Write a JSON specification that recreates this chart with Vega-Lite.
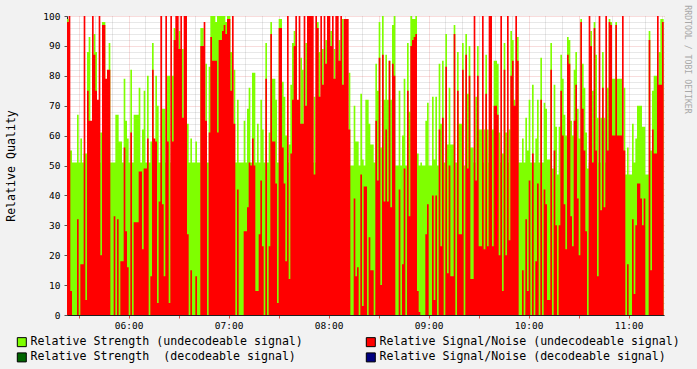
{
"$schema": "https://vega.github.io/schema/vega-lite/v6.json",
"width": 597, "height": 299,
"autosize": "none",
"padding": {"left": 67, "top": 16, "right": 33, "bottom": 54},
"background": "#f2f2f2",
"config": {"view": {"fill": "#ffffff", "stroke": null}, "font": "DejaVu Sans Mono"},
"data": {"format": {"parse": {"t": "date:'%H:%M'"}}, "values": [
{"t":"05:23","g":99,"r":98},{"t":"05:24","g":55,"r":100},{"t":"05:25","g":55,"r":8},{"t":"05:26","g":51,"r":0},{"t":"05:27","g":51,"r":0},{"t":"05:28","g":51,"r":0},{"t":"05:29","g":67,"r":32},{"t":"05:30","g":51,"r":0},{"t":"05:31","g":59,"r":17},{"t":"05:32","g":51,"r":17},
{"t":"05:33","g":54,"r":100},{"t":"05:34","g":54,"r":5},{"t":"05:35","g":88,"r":75},{"t":"05:36","g":93,"r":65},{"t":"05:37","g":51,"r":65},{"t":"05:38","g":51,"r":100},{"t":"05:39","g":94,"r":87},{"t":"05:40","g":88,"r":75},{"t":"05:41","g":51,"r":72},{"t":"05:42","g":51,"r":100},
{"t":"05:43","g":61,"r":20},{"t":"05:44","g":98,"r":97},{"t":"05:45","g":98,"r":97},{"t":"05:46","g":51,"r":79},{"t":"05:47","g":51,"r":82},{"t":"05:48","g":91,"r":82},{"t":"05:49","g":51,"r":0},{"t":"05:50","g":51,"r":0},{"t":"05:51","g":51,"r":33},{"t":"05:52","g":67,"r":0},
{"t":"05:53","g":67,"r":32},{"t":"05:54","g":58,"r":0},{"t":"05:55","g":58,"r":18},{"t":"05:56","g":51,"r":18},{"t":"05:57","g":79,"r":56},{"t":"05:58","g":65,"r":28},{"t":"05:59","g":59,"r":16},{"t":"06:00","g":51,"r":0},{"t":"06:01","g":82,"r":61},{"t":"06:02","g":51,"r":0},
{"t":"06:03","g":67,"r":31},{"t":"06:04","g":67,"r":31},{"t":"06:05","g":67,"r":31},{"t":"06:06","g":76,"r":48},{"t":"06:07","g":51,"r":48},{"t":"06:08","g":62,"r":22},{"t":"06:09","g":75,"r":49},{"t":"06:10","g":51,"r":49},{"t":"06:11","g":80,"r":59},{"t":"06:12","g":51,"r":0},
{"t":"06:13","g":58,"r":13},{"t":"06:14","g":91,"r":82},{"t":"06:15","g":51,"r":59},{"t":"06:16","g":80,"r":58},{"t":"06:17","g":70,"r":4},{"t":"06:18","g":51,"r":38},{"t":"06:19","g":51,"r":100},{"t":"06:20","g":69,"r":37},{"t":"06:21","g":69,"r":13},{"t":"06:22","g":51,"r":100},
{"t":"06:23","g":80,"r":58},{"t":"06:24","g":80,"r":4},{"t":"06:25","g":51,"r":100},{"t":"06:26","g":80,"r":58},{"t":"06:27","g":96,"r":92},{"t":"06:28","g":51,"r":100},{"t":"06:29","g":51,"r":100},{"t":"06:30","g":95,"r":89},{"t":"06:31","g":51,"r":100},{"t":"06:32","g":89,"r":66},
{"t":"06:33","g":51,"r":100},{"t":"06:34","g":51,"r":100},{"t":"06:35","g":64,"r":27},{"t":"06:36","g":51,"r":0},{"t":"06:37","g":59,"r":15},{"t":"06:38","g":51,"r":0},{"t":"06:39","g":51,"r":0},{"t":"06:40","g":58,"r":13},{"t":"06:41","g":51,"r":0},{"t":"06:42","g":51,"r":0},
{"t":"06:43","g":96,"r":90},{"t":"06:44","g":96,"r":90},{"t":"06:45","g":51,"r":98},{"t":"06:46","g":84,"r":65},{"t":"06:47","g":51,"r":0},{"t":"06:48","g":83,"r":61},{"t":"06:49","g":100,"r":93},{"t":"06:50","g":100,"r":85},{"t":"06:51","g":100,"r":85},{"t":"06:52","g":98,"r":85},
{"t":"06:53","g":100,"r":61},{"t":"06:54","g":100,"r":92},{"t":"06:55","g":100,"r":92},{"t":"06:56","g":100,"r":95},{"t":"06:57","g":100,"r":97},{"t":"06:58","g":98,"r":94},{"t":"06:59","g":100,"r":99},{"t":"07:00","g":100,"r":99},{"t":"07:01","g":88,"r":75},{"t":"07:02","g":51,"r":100},
{"t":"07:03","g":82,"r":64},{"t":"07:04","g":51,"r":0},{"t":"07:05","g":72,"r":42},{"t":"07:06","g":51,"r":0},{"t":"07:07","g":51,"r":0},{"t":"07:08","g":51,"r":0},{"t":"07:09","g":65,"r":28},{"t":"07:10","g":51,"r":28},{"t":"07:11","g":69,"r":36},{"t":"07:12","g":76,"r":51},
{"t":"07:13","g":51,"r":50},{"t":"07:14","g":81,"r":59},{"t":"07:15","g":81,"r":50},{"t":"07:16","g":51,"r":8},{"t":"07:17","g":64,"r":8},{"t":"07:18","g":51,"r":27},{"t":"07:19","g":72,"r":45},{"t":"07:20","g":62,"r":23},{"t":"07:21","g":51,"r":0},{"t":"07:22","g":91,"r":79},
{"t":"07:23","g":51,"r":0},{"t":"07:24","g":61,"r":23},{"t":"07:25","g":98,"r":94},{"t":"07:26","g":79,"r":58},{"t":"07:27","g":79,"r":58},{"t":"07:28","g":72,"r":44},{"t":"07:29","g":51,"r":4},{"t":"07:30","g":99,"r":96},{"t":"07:31","g":99,"r":96},{"t":"07:32","g":78,"r":56},
{"t":"07:33","g":73,"r":44},{"t":"07:34","g":60,"r":18},{"t":"07:35","g":51,"r":100},{"t":"07:36","g":57,"r":12},{"t":"07:37","g":77,"r":54},{"t":"07:38","g":91,"r":72},{"t":"07:39","g":95,"r":90},{"t":"07:40","g":51,"r":100},{"t":"07:41","g":51,"r":72},{"t":"07:42","g":51,"r":100},
{"t":"07:43","g":86,"r":64},{"t":"07:44","g":82,"r":64},{"t":"07:45","g":51,"r":100},{"t":"07:46","g":91,"r":70},{"t":"07:47","g":51,"r":100},{"t":"07:48","g":51,"r":100},{"t":"07:49","g":51,"r":100},{"t":"07:50","g":51,"r":100},{"t":"07:51","g":73,"r":47},{"t":"07:52","g":51,"r":100},
{"t":"07:53","g":98,"r":96},{"t":"07:54","g":88,"r":73},{"t":"07:55","g":51,"r":100},{"t":"07:56","g":89,"r":77},{"t":"07:57","g":51,"r":100},{"t":"07:58","g":92,"r":84},{"t":"07:59","g":51,"r":100},{"t":"08:00","g":51,"r":100},{"t":"08:01","g":95,"r":90},{"t":"08:02","g":51,"r":100},
{"t":"08:03","g":89,"r":79},{"t":"08:04","g":51,"r":100},{"t":"08:05","g":51,"r":100},{"t":"08:06","g":92,"r":85},{"t":"08:07","g":51,"r":100},{"t":"08:08","g":99,"r":77},{"t":"08:09","g":51,"r":99},{"t":"08:10","g":51,"r":99},{"t":"08:11","g":51,"r":99},{"t":"08:12","g":81,"r":62},
{"t":"08:13","g":50,"r":0},{"t":"08:14","g":50,"r":0},{"t":"08:15","g":70,"r":39},{"t":"08:16","g":58,"r":13},{"t":"08:17","g":58,"r":16},{"t":"08:18","g":50,"r":0},{"t":"08:19","g":74,"r":47},{"t":"08:20","g":52,"r":3},{"t":"08:21","g":50,"r":43},{"t":"08:22","g":72,"r":43},
{"t":"08:23","g":72,"r":0},{"t":"08:24","g":64,"r":26},{"t":"08:25","g":57,"r":15},{"t":"08:26","g":57,"r":15},{"t":"08:27","g":51,"r":0},{"t":"08:28","g":84,"r":65},{"t":"08:29","g":75,"r":45},{"t":"08:30","g":98,"r":86},{"t":"08:31","g":56,"r":10},{"t":"08:32","g":100,"r":87},
{"t":"08:33","g":72,"r":38},{"t":"08:34","g":87,"r":62},{"t":"08:35","g":72,"r":38},{"t":"08:36","g":85,"r":85},{"t":"08:37","g":72,"r":36},{"t":"08:38","g":97,"r":84},{"t":"08:39","g":100,"r":80},{"t":"08:40","g":50,"r":0},{"t":"08:41","g":50,"r":0},{"t":"08:42","g":75,"r":42},
{"t":"08:43","g":50,"r":0},{"t":"08:44","g":60,"r":17},{"t":"08:45","g":79,"r":49},{"t":"08:46","g":50,"r":0},{"t":"08:47","g":91,"r":75},{"t":"08:48","g":68,"r":33},{"t":"08:49","g":100,"r":90},{"t":"08:50","g":99,"r":92},{"t":"08:51","g":99,"r":93},{"t":"08:52","g":100,"r":94},
{"t":"08:53","g":54,"r":8},{"t":"08:54","g":50,"r":1},{"t":"08:55","g":51,"r":0},{"t":"08:56","g":50,"r":0},{"t":"08:57","g":50,"r":0},{"t":"08:58","g":65,"r":27},{"t":"08:59","g":71,"r":37},{"t":"09:00","g":50,"r":0},{"t":"09:01","g":50,"r":0},{"t":"09:02","g":73,"r":40},
{"t":"09:03","g":52,"r":5},{"t":"09:04","g":73,"r":40},{"t":"09:05","g":50,"r":0},{"t":"09:06","g":84,"r":62},{"t":"09:07","g":64,"r":23},{"t":"09:08","g":85,"r":66},{"t":"09:09","g":51,"r":0},{"t":"09:10","g":94,"r":83},{"t":"09:11","g":57,"r":14},{"t":"09:12","g":76,"r":50},
{"t":"09:13","g":57,"r":13},{"t":"09:14","g":57,"r":13},{"t":"09:15","g":97,"r":94},{"t":"09:16","g":51,"r":0},{"t":"09:17","g":88,"r":75},{"t":"09:18","g":64,"r":27},{"t":"09:19","g":64,"r":27},{"t":"09:20","g":91,"r":82},{"t":"09:21","g":50,"r":0},{"t":"09:22","g":94,"r":87},
{"t":"09:23","g":74,"r":49},{"t":"09:24","g":90,"r":80},{"t":"09:25","g":56,"r":12},{"t":"09:26","g":56,"r":12},{"t":"09:27","g":51,"r":100},{"t":"09:28","g":73,"r":45},{"t":"09:29","g":90,"r":80},{"t":"09:30","g":62,"r":23},{"t":"09:31","g":62,"r":23},{"t":"09:32","g":51,"r":100},
{"t":"09:33","g":62,"r":22},{"t":"09:34","g":87,"r":74},{"t":"09:35","g":62,"r":23},{"t":"09:36","g":51,"r":100},{"t":"09:37","g":51,"r":100},{"t":"09:38","g":62,"r":23},{"t":"09:39","g":85,"r":70},{"t":"09:40","g":85,"r":70},{"t":"09:41","g":84,"r":67},{"t":"09:42","g":61,"r":20},
{"t":"09:43","g":51,"r":100},{"t":"09:44","g":54,"r":8},{"t":"09:45","g":91,"r":82},{"t":"09:46","g":61,"r":20},{"t":"09:47","g":51,"r":100},{"t":"09:48","g":62,"r":25},{"t":"09:49","g":95,"r":80},{"t":"09:50","g":92,"r":85},{"t":"09:51","g":72,"r":70},{"t":"09:52","g":51,"r":100},
{"t":"09:53","g":93,"r":85},{"t":"09:54","g":51,"r":0},{"t":"09:55","g":51,"r":0},{"t":"09:56","g":59,"r":15},{"t":"09:57","g":51,"r":0},{"t":"09:58","g":66,"r":32},{"t":"09:59","g":55,"r":8},{"t":"10:00","g":72,"r":45},{"t":"10:01","g":51,"r":0},{"t":"10:02","g":77,"r":54},
{"t":"10:03","g":51,"r":0},{"t":"10:04","g":59,"r":18},{"t":"10:05","g":72,"r":44},{"t":"10:06","g":51,"r":0},{"t":"10:07","g":86,"r":72},{"t":"10:08","g":51,"r":0},{"t":"10:09","g":71,"r":42},{"t":"10:10","g":69,"r":37},{"t":"10:11","g":52,"r":5},{"t":"10:12","g":52,"r":5},
{"t":"10:13","g":91,"r":82},{"t":"10:14","g":49,"r":0},{"t":"10:15","g":77,"r":55},{"t":"10:16","g":63,"r":30},{"t":"10:17","g":47,"r":0},{"t":"10:18","g":63,"r":30},{"t":"10:19","g":87,"r":75},{"t":"10:20","g":79,"r":60},{"t":"10:21","g":67,"r":37},{"t":"10:22","g":60,"r":22},
{"t":"10:23","g":93,"r":87},{"t":"10:24","g":92,"r":84},{"t":"10:25","g":65,"r":33},{"t":"10:26","g":60,"r":23},{"t":"10:27","g":82,"r":65},{"t":"10:28","g":88,"r":77},{"t":"10:29","g":69,"r":39},{"t":"10:30","g":59,"r":20},{"t":"10:31","g":99,"r":98},{"t":"10:32","g":84,"r":69},
{"t":"10:33","g":76,"r":55},{"t":"10:34","g":61,"r":28},{"t":"10:35","g":49,"r":0},{"t":"10:36","g":51,"r":100},{"t":"10:37","g":95,"r":90},{"t":"10:38","g":75,"r":51},{"t":"10:39","g":98,"r":96},{"t":"10:40","g":87,"r":55},{"t":"10:41","g":66,"r":13},{"t":"10:42","g":51,"r":100},
{"t":"10:43","g":66,"r":35},{"t":"10:44","g":88,"r":76},{"t":"10:45","g":66,"r":36},{"t":"10:46","g":51,"r":100},{"t":"10:47","g":76,"r":55},{"t":"10:48","g":99,"r":98},{"t":"10:49","g":98,"r":97},{"t":"10:50","g":79,"r":60},{"t":"10:51","g":79,"r":60},{"t":"10:52","g":98,"r":97},
{"t":"10:53","g":79,"r":60},{"t":"10:54","g":79,"r":60},{"t":"10:55","g":79,"r":60},{"t":"10:56","g":51,"r":100},{"t":"10:57","g":76,"r":55},{"t":"10:58","g":47,"r":0},{"t":"10:59","g":56,"r":17},{"t":"11:00","g":47,"r":0},{"t":"11:01","g":47,"r":0},{"t":"11:02","g":64,"r":32},
{"t":"11:03","g":51,"r":7},{"t":"11:04","g":59,"r":30},{"t":"11:05","g":70,"r":44},{"t":"11:06","g":70,"r":44},{"t":"11:07","g":70,"r":39},{"t":"11:08","g":63,"r":30},{"t":"11:09","g":63,"r":39},{"t":"11:10","g":47,"r":0},{"t":"11:11","g":47,"r":0},{"t":"11:12","g":95,"r":92},
{"t":"11:13","g":55,"r":15},{"t":"11:14","g":75,"r":62},{"t":"11:15","g":80,"r":54},{"t":"11:16","g":80,"r":54},{"t":"11:17","g":51,"r":100},{"t":"11:18","g":88,"r":77},{"t":"11:19","g":99,"r":77},{"t":"11:20","g":99,"r":98},{"t":"11:21","g":99,"r":98}
]},
"layer": [
{
"mark": {"type": "area", "interpolate": "step-after", "clip": true, "opacity": 1},
"encoding": {
"x": {"field": "t", "type": "temporal",
 "scale": {"domain": [{"year":1900,"month":1,"date":1,"hours":5,"minutes":23},{"year":1900,"month":1,"date":1,"hours":11,"minutes":21,"seconds":12}]},
 "axis": {"title": null,
  "values": [
   {"year":1900,"month":1,"date":1,"hours":5,"minutes":30},{"year":1900,"month":1,"date":1,"hours":5,"minutes":40},{"year":1900,"month":1,"date":1,"hours":5,"minutes":50},
   {"year":1900,"month":1,"date":1,"hours":6,"minutes":0},{"year":1900,"month":1,"date":1,"hours":6,"minutes":10},{"year":1900,"month":1,"date":1,"hours":6,"minutes":20},{"year":1900,"month":1,"date":1,"hours":6,"minutes":30},{"year":1900,"month":1,"date":1,"hours":6,"minutes":40},{"year":1900,"month":1,"date":1,"hours":6,"minutes":50},
   {"year":1900,"month":1,"date":1,"hours":7,"minutes":0},{"year":1900,"month":1,"date":1,"hours":7,"minutes":10},{"year":1900,"month":1,"date":1,"hours":7,"minutes":20},{"year":1900,"month":1,"date":1,"hours":7,"minutes":30},{"year":1900,"month":1,"date":1,"hours":7,"minutes":40},{"year":1900,"month":1,"date":1,"hours":7,"minutes":50},
   {"year":1900,"month":1,"date":1,"hours":8,"minutes":0},{"year":1900,"month":1,"date":1,"hours":8,"minutes":10},{"year":1900,"month":1,"date":1,"hours":8,"minutes":20},{"year":1900,"month":1,"date":1,"hours":8,"minutes":30},{"year":1900,"month":1,"date":1,"hours":8,"minutes":40},{"year":1900,"month":1,"date":1,"hours":8,"minutes":50},
   {"year":1900,"month":1,"date":1,"hours":9,"minutes":0},{"year":1900,"month":1,"date":1,"hours":9,"minutes":10},{"year":1900,"month":1,"date":1,"hours":9,"minutes":20},{"year":1900,"month":1,"date":1,"hours":9,"minutes":30},{"year":1900,"month":1,"date":1,"hours":9,"minutes":40},{"year":1900,"month":1,"date":1,"hours":9,"minutes":50},
   {"year":1900,"month":1,"date":1,"hours":10,"minutes":0},{"year":1900,"month":1,"date":1,"hours":10,"minutes":10},{"year":1900,"month":1,"date":1,"hours":10,"minutes":20},{"year":1900,"month":1,"date":1,"hours":10,"minutes":30},{"year":1900,"month":1,"date":1,"hours":10,"minutes":40},{"year":1900,"month":1,"date":1,"hours":10,"minutes":50},
   {"year":1900,"month":1,"date":1,"hours":11,"minutes":0},{"year":1900,"month":1,"date":1,"hours":11,"minutes":10},{"year":1900,"month":1,"date":1,"hours":11,"minutes":20}],
  "labelExpr": "minutes(datum.value) == 0 ? timeFormat(datum.value, '%H:%M') : ''",
  "labelFont": "DejaVu Sans Mono", "labelFontSize": 9.5, "labelColor": "#000000", "labelPadding": 2, "labelOverlap": false, "labelFlush": false,
  "ticks": true, "tickSize": 3, "tickColor": "#de4f4f",
  "tickOpacity": {"condition": {"test": "minutes(datum.value) % 30 == 0", "value": 1}, "value": 0},
  "domain": true, "domainColor": "#1f1f1f", "domainWidth": 1,
  "grid": true, "gridDash": [1, 1], "gridWidth": 1, "gridOpacity": 0.4,
  "gridColor": {"condition": {"test": "minutes(datum.value) % 30 == 0", "value": "#de4f4f"}, "value": "#8f8f8f"},
  "zindex": 0}},
"y": {"field": "g", "type": "quantitative",
 "scale": {"domain": [0, 100], "nice": false},
 "axis": {"title": "Relative Quality", "titleFont": "DejaVu Sans Mono", "titleFontSize": 11.6, "titleFontWeight": "normal", "titleColor": "#000000", "titlePadding": 26,
  "values": [0,2,4,6,8,10,12,14,16,18,20,22,24,26,28,30,32,34,36,38,40,42,44,46,48,50,52,54,56,58,60,62,64,66,68,70,72,74,76,78,80,82,84,86,88,90,92,94,96,98,100],
  "labelExpr": "datum.value % 10 == 0 ? datum.label : ''",
  "labelFont": "DejaVu Sans Mono", "labelFontSize": 9.5, "labelColor": "#000000", "labelPadding": 4, "labelOverlap": false, "labelFlush": false,
  "ticks": true, "tickSize": 3, "tickColor": "#555555",
  "tickOpacity": {"condition": {"test": "datum.value % 10 == 0", "value": 1}, "value": 0},
  "domain": true, "domainColor": "#1f1f1f", "domainWidth": 1,
  "grid": true, "gridDash": [1, 1], "gridWidth": 1, "gridOpacity": 0.4,
  "gridColor": {"condition": {"test": "datum.value % 10 == 0", "value": "#de4f4f"}, "value": "#8f8f8f"},
  "zindex": 0}},
"color": {"datum": "Relative Strength (undecodeable signal)", "type": "nominal",
 "scale": {"domain": ["Relative Strength (undecodeable signal)", "Relative Strength \u00a0(decodeable signal)", "Relative Signal/Noise (undecodeable signal)", "Relative Signal/Noise (decodeable signal)"],
  "range": ["#7fff00", "#006400", "#ff0000", "#000080"]},
 "legend": {"orient": "none", "legendX": -51, "legendY": 320, "columns": 2, "title": null,
  "symbolType": "square", "symbolSize": 81, "symbolStrokeColor": "#000000", "symbolStrokeWidth": 1, "symbolOpacity": 1,
  "labelFont": "DejaVu Sans Mono", "labelFontSize": 11.6, "labelColor": "#000000", "labelOffset": 3, "labelLimit": 500,
  "columnPadding": 61, "rowPadding": 1.6, "padding": 0}}
}
},
{
"mark": {"type": "area", "interpolate": "step-after", "clip": true, "opacity": 1},
"encoding": {
"x": {"field": "t", "type": "temporal", "axis": null},
"y": {"field": "r", "type": "quantitative", "scale": {"domain": [0, 100], "nice": false},
 "axis": {"orient": "right", "title": "RRDTOOL / TOBI OETIKER", "labels": false, "ticks": false, "domain": false, "grid": false,
  "titleAngle": 90, "titleFont": "DejaVu Sans Mono", "titleFontSize": 8.2, "titleFontWeight": "normal", "titleColor": "#a8a8a8",
  "titleX": 22, "titleY": 43, "titleAlign": "center", "titleBaseline": "middle"}},
"color": {"datum": "Relative Signal/Noise (undecodeable signal)", "type": "nominal"}
}
}
],
"resolve": {"axis": {"x": "independent", "y": "independent"}}
}
